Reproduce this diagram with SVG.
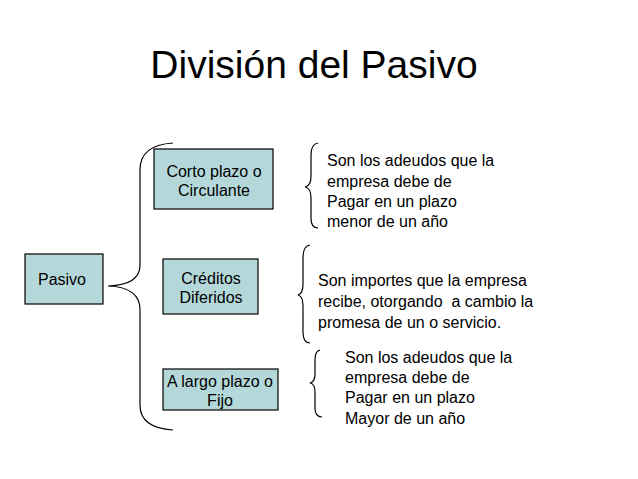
<svg xmlns="http://www.w3.org/2000/svg" width="638" height="479" viewBox="0 0 638 479">
<style>
text{font-family:"Liberation Sans",Arial,sans-serif;fill:#000}
.t{font-size:16px}
.box{fill:#b4d8da;stroke:#000;stroke-width:1.2}
.br{fill:none;stroke:#000;stroke-width:1.2}
</style>
<rect width="638" height="479" fill="#fff"/>
<text x="314" y="78" font-size="39" text-anchor="middle">División del Pasivo</text>
<g id="pasivo"><rect class="box" x="25" y="254" width="78" height="50"/><text class="t" x="62" y="285" text-anchor="middle">Pasivo</text></g>
<g id="corto"><rect class="box" x="154" y="149" width="119" height="60"/><text class="t" x="214" y="177" text-anchor="middle">Corto plazo o</text><text class="t" x="214" y="196" text-anchor="middle">Circulante</text></g>
<g id="creditos"><rect class="box" x="163" y="259" width="95" height="55"/><text class="t" x="211" y="284" text-anchor="middle">Créditos</text><text class="t" x="211" y="303" text-anchor="middle">Diferidos</text></g>
<g id="largo"><rect class="box" x="163" y="369" width="115" height="41"/><text class="t" x="220" y="387" text-anchor="middle">A largo plazo o</text><text class="t" x="220" y="406" text-anchor="middle">Fijo</text></g>
<g id="connectors">
<path class="br" d="M173,143 Q140,145 140,170 L140,265 Q140,285 108,286 Q140,287 140,310 L140,405 Q140,428 173,430"/>
<path class="br" d="M318,143 Q311,144 311,155 L311,176 Q311,186 305,187 Q311,188 311,198 L311,218 Q311,228 318,228"/>
<path class="br" d="M310,245 Q303,246 303,258 L303,284 Q303,294 298,295 Q303,296 303,306 L303,332 Q303,343 310,343"/>
<path class="br" d="M320,350 Q315,351 315,360 L315,374 Q315,382 310,383 Q315,384 315,392 L315,408 Q315,417 322,417"/>
</g>
<g id="desc1"><text class="t" x="327" y="166">Son los adeudos que la</text><text class="t" x="327" y="187">empresa debe de</text><text class="t" x="327" y="207">Pagar en un plazo</text><text class="t" x="327" y="227">menor de un año</text></g>
<g id="desc2"><text class="t" x="318" y="286">Son importes que la empresa</text><text class="t" x="318" y="307" xml:space="preserve">recibe, otorgando  a cambio la</text><text class="t" x="318" y="328">promesa de un o servicio.</text></g>
<g id="desc3"><text class="t" x="345" y="363">Son los adeudos que la</text><text class="t" x="345" y="383">empresa debe de</text><text class="t" x="345" y="403">Pagar en un plazo</text><text class="t" x="345" y="424">Mayor de un año</text></g>
</svg>
